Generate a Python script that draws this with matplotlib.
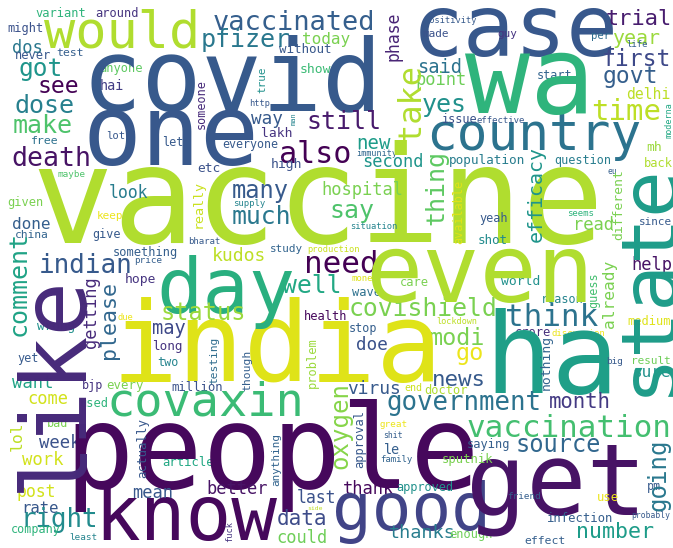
import matplotlib
matplotlib.use("Agg")
import matplotlib.pyplot as plt

# ---- data: words and their relative frequency (font em in px of the cloud) ----
words = ["variant","around","would","vaccinated","pfizer","today","without","case","made","positivity",
         "guy","trial","year","per","life","might","dos","never","test","got",
         "see","hai","anyone","dose","make","death","free","lot","let","etc",
         "maybe","covid","one","show","http","way","lakh","still","also","everyone",
         "high","immunity","new","second","said","point","yes","country","issue","effective",
         "first","govt","start","delhi","time","mh","population","question","back","eu",
         "wa","vaccine","given","look","done","keep","china","give","bharat","many",
         "much","supply","hospital","say","situation","kudos","study","production","need","well",
         "money","care","wave","covishield","health","stop","doe","lockdown","modi","go",
         "think","yeah","read","shot","seems","since","help","world","reason","medium",
         "crore","discussion","ha","even","india","day","indian","something","price","hope",
         "status","may","wrong","due","long","yet","two","want","come","bjp",
         "every","million","used","covaxin","bad","week","work","article","people","know",
         "post","rate","right","mean","better","company","least","virus","government","news",
         "end","doctor","great","shit","le","family","thank","approved","last","data",
         "side","could","good","thanks","enough","effect","get","month","sure","big",
         "result","vaccination","source","saying","sputnik","pm","use","friend","infection","probably",
         "number",
         "phase","someone","true","man","take","moderna","efficacy","thing","really","available",
         "different","already","guess","state","like","comment","getting","please","testing","lol",
         "actually","fuck","though","problem","oxygen","approval","anything","nothing","going"]

freq = [12,12,52,27,25,16,12.5,86,11,8.6,
        11,22,20,10.5,9,12,17,12,11.5,24.5,
        23,13.5,12,25,25,26.5,11.5,10.5,11.7,12.9,
        9.3,100,98,13,8.7,17.6,13,25,30,11.6,
        13,8.5,19,17,18.6,17,25,51,11.7,9,
        23,23,11.7,14.8,29,13,12.7,11.7,12,8,
        108,136,12,16.5,16,11,11.3,11.7,9,23.8,
        24.7,9,17,25,8.8,18,11,8.8,31,24.7,
        9,12,12,24.7,12,11.7,17.6,8.5,23.4,23.5,
        31,11.7,17,12.5,9,11,17,13,11.7,12,
        12,9,112,95,110,77,26,12,9.3,13,
        23.6,18.8,12.7,8.8,12.6,11.7,11.7,17.3,17,11.7,
        12.4,12.2,12,47,11.7,17.3,17.3,12.2,115,76,
        16.5,15.6,25.8,17,17,11.7,9.3,17.9,25.8,22.5,
        10,12,9.3,8.2,13.5,9,17,11.9,16.5,21,
        6.5,17,66,18.5,12,11.4,100,20.6,16,9.4,
        11,31,23.6,12,12.2,11.8,12.3,9.4,12.2,8,
        21.7,
        16.5,11.7,11,7,32,8.5,20,25,13.4,11.8,
        13,16.3,11.7,78,91,25,17,21.7,11.2,16.4,
        12.5,8.7,11.4,12,24,12,11,13,24]

# ---- layout: (x, y, vertical?, colour position on viridis) ----
layout = [
    (60.5,17,0,.65),(117.5,17,0,.15),(122,48,0,.88),(294,30,0,.30),(246,47,0,.40),
    (326.5,44,0,.80),(305,53,0,.27),(515,56,0,.27),(436,37,0,.25),(450.5,23,0,.28),
    (507.5,37,0,.15),(638.5,25,0,.08),(636.5,44,0,.85),(601,39,0,.35),(637.5,47,0,.30),
    (25.5,32,0,.25),(27.5,53,0,.40),(32.5,59,0,.27),(70,56,0,.30),(41,76,0,.52),
    (58,93,0,.0),(111.5,90,0,.18),(121.5,72,0,.75),(45,113,0,.43),(43,133,0,.72),
    (51.5,166,0,.05),(45,144,0,.37),(116,139,0,.27),(173,146,0,.28),(209,172,0,.25),
    (71.5,177,0,.72),(232,110,0,.28),(171,165,0,.27),(315,73,0,.68),(260,106,0,.27),
    (267,124,0,.28),(277,137,0,.15),(343.5,129,0,.07),(315,163,0,.0),(250.5,148,0,.28),
    (287,168,0,.25),(377,156,0,.33),(373.5,149,0,.55),(393,167,0,.52),(439.5,73,0,.38),
    (441,85,0,.78),(444.5,112,0,.50),(533.5,150,0,.38),(460,123,0,.25),(501,123,0,.27),
    (636.5,66,0,.22),(630,83,0,.30),(555,79,0,.32),(648.5,99,0,.90),(626,120,0,.90),
    (654.5,151,0,.85),(487.5,164,0,.42),(582.5,164,0,.42),(658,167,0,.88),(612.5,174,0,.30),
    (530,113,0,.65),(318,243,0,.88),(25.5,206,0,.80),(129,198,0,.42),(31.5,229,0,.30),
    (109.5,219,0,.97),(31.5,238,0,.32),(106.5,238,0,.28),(204,244,0,.28),(260.5,198,0,.28),
    (261.5,224,0,.40),(249,206,0,.45),(362,195,0,.80),(351.5,218,0,.72),(373.5,229,0,.45),
    (239,261,0,.90),(286,252,0,.32),(334,252,0,.92),(341,273,0,.0),(311.5,293,0,.60),
    (365,281,0,.95),(414,286,0,.80),(366,296,0,.37),(423,316,0,.80),(326,320,0,.02),
    (363.5,332,0,.30),(372,350,0,.25),(456.5,324,0,.90),(456.5,345,0,.80),(470,360,0,.97),
    (552,326,0,.38),(493.5,222,0,.28),(593,230,0,.80),(492.5,244,0,.48),(580,216,0,.65),
    (655,225,0,.28),(652,270,0,.05),(521,285,0,.50),(562.5,303,0,.45),(649,325,0,.95),
    (532.5,336,0,.13),(578.5,336,0,.97),(552,393,0,.56),(480,302,0,.88),(277,381,0,.95),
    (226,313,0,.63),(86,273,0,.28),(145,256,0,.30),(148.5,263,0,.30),(140,283,0,.15),
    (203.5,320,0,.85),(169,334,0,.22),(56.5,330,0,.50),(125.5,320,0,.97),(167.5,350,0,.15),
    (28,362,0,.28),(168,366,0,.45),(33,388,0,.58),(47.5,404,0,.93),(93,389,0,.15),
    (125,389,0,.80),(197,391,0,.25),(94,407,0,.65),(205,415,0,.68),(58,427,0,.80),
    (60,448,0,.25),(43,465,0,.93),(188,466,0,.60),(272,488,0,.02),(186,540,0,.02),
    (36,497,0,.93),(40,513,0,.27),(59.5,527,0,.48),(152.5,498,0,.27),(237,494,0,.05),
    (36,533,0,.65),(83.5,540,0,.45),(374,394,0,.28),(463.5,410,0,.38),(459,386,0,.28),
    (413.5,391,0,.92),(446,394,0,.88),(393.5,427,0,.97),(392.5,438,0,.30),(392.5,454,0,.30),
    (396,462,0,.32),(368,494,0,.02),(425,491,0,.50),(316,503,0,.25),(302.5,525,0,.23),
    (315.5,510,0,.90),(302,543,0,.78),(411,530,0,.20),(422.5,538,0,.42),(471,538,0,.78),
    (545,544,0,.30),(556,514,0,.05),(580,408,0,.17),(651.5,377,0,.50),(615,364,0,.28),
    (651,364,0,.78),(569,437,0,.70),(558.5,452,0,.33),(489,448,0,.30),(468,463,0,.80),
    (653.5,490,0,.28),(607.5,501,0,.97),(523.5,499,0,.30),(580.5,522,0,.30),(651,518,0,.28),
    (615,538,0,.55),
    (398,36,1,.10),(205,104,1,.12),(265,79.5,1,.50),(296,119,1,.45),(420,102.5,1,.88),
    (671,120.5,1,.60),(542,194.5,1,.52),(443,187.5,1,.75),(202,203.5,1,.92),(462,211.5,1,.95),
    (622,205,1,.80),(614,293.5,1,.80),(597,290,1,.70),(670,279,1,.55),(80,382,1,.12),
    (26,283,1,.58),(96,312,1,.12),(115,320,1,.33),(217,360,1,.35),(22,436,1,.90),
    (146,447.5,1,.27),(232,532,1,.15),(250,370,1,.30),(316,362.5,1,.85),(347,425.5,1,.82),
    (363,438.5,1,.27),(279,459,1,.32),(550,362.5,1,.32),(666,475,1,.40),
]

W, H, DPI = 673, 548, 100
fig = plt.figure(figsize=(W / DPI, H / DPI), dpi=DPI, facecolor="white")
ax = fig.add_axes([0, 0, 1, 1])
ax.set_xlim(0, W)
ax.set_ylim(H, 0)
ax.axis("off")

cmap = matplotlib.colormaps["viridis"]
px_to_pt = 72.0 / DPI

for w, f, (x, y, vert, t) in zip(words, freq, layout):
    kw = dict(fontsize=f * px_to_pt, family="DejaVu Sans Mono", color=cmap(t),
              ha="center", va="baseline")
    if vert:
        ax.text(x, y, w, rotation=90, rotation_mode="anchor", **kw)
    else:
        ax.text(x, y, w, **kw)

fig.savefig("out.png", dpi=DPI, facecolor="white")
